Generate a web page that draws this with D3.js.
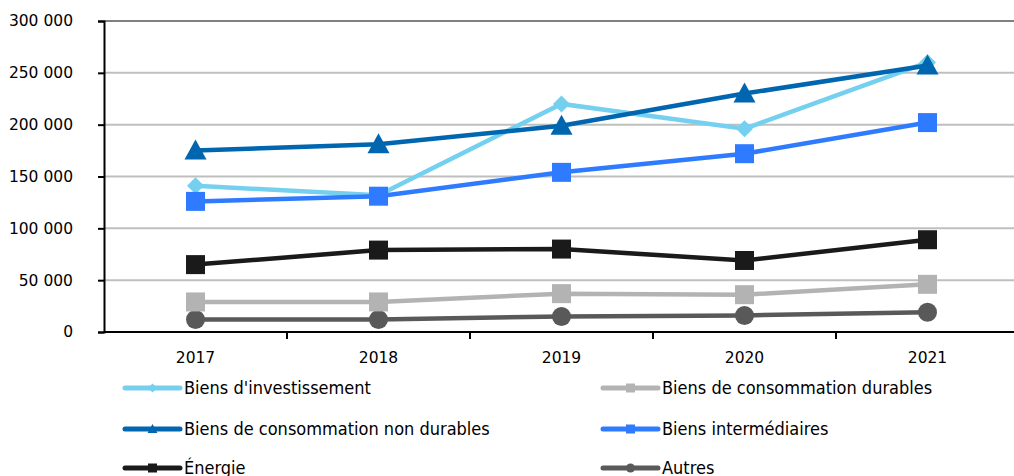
<!DOCTYPE html>
<html>
<head>
<meta charset="utf-8">
<script src="https://cdn.jsdelivr.net/npm/d3@7"></script>
<style>
  body { margin: 0; background: #fff; }
  svg { display: block; }
  .tick text { font-family: "DejaVu Sans", Verdana, sans-serif; font-size: 15.5px; fill: #000; }
  .legend text { font-family: "DejaVu Sans Condensed", "DejaVu Sans", sans-serif; font-size: 18px; fill: #000; }
</style>
</head>
<body>
<script>
var years = ["2017", "2018", "2019", "2020", "2021"]
var yTicks = [0, 50000, 100000, 150000, 200000, 250000, 300000]

var investissement = [141000, 132000, 220000, 196000, 260000]
var nonDurables = [175000, 181000, 199000, 230000, 257000]
var intermediaires = [126000, 131000, 154000, 172000, 202000]
var energie = [65000, 79000, 80000, 69000, 89000]
var durables = [29000, 29000, 37000, 36000, 46000]
var autres = [12000, 12000, 15000, 16000, 19000]

// draw order: first ones end up below
var series = [
  {name: "Autres", values: autres, color: "#595959", shape: "circle"},
  {name: "Biens de consommation durables", values: durables, color: "#B3B3B3", shape: "square"},
  {name: "Énergie", values: energie, color: "#1A1A1A", shape: "square"},
  {name: "Biens d'investissement", values: investissement, color: "#75D0F0", shape: "diamond"},
  {name: "Biens intermédiaires", values: intermediaires, color: "#2F7BFF", shape: "square"},
  {name: "Biens de consommation non durables", values: nonDurables, color: "#0066B0", shape: "triangle"}
]
var legendOrder = [
  "Biens d'investissement", "Biens de consommation durables",
  "Biens de consommation non durables", "Biens intermédiaires",
  "Énergie", "Autres"
]

var width = 1014, height = 476

var svg = d3.select("body").append("svg")
  .attr("width", width)
  .attr("height", height)

var x = d3.scaleBand()
  .domain(years)
  .range([104, 1019])

var y = d3.scaleLinear()
  .domain([0, 300000])
  .range([332, 21])

var fmt = function(d) { return d3.format(",")(d).replace(/,/g, " ") }

// horizontal grid
svg.append("g").selectAll("line")
  .data(yTicks.filter(function(d) { return d > 0 }))
  .enter().append("line")
  .attr("x1", 104).attr("x2", width)
  .attr("y1", function(d) { return y(d) })
  .attr("y2", function(d) { return y(d) })
  .attr("stroke", function(d) { return d === 300000 ? "#808080" : "#BFBFBF" })
  .attr("stroke-width", 2)

// y axis
var yAxis = svg.append("g")
  .attr("transform", "translate(104,0)")
  .call(d3.axisLeft(y).tickValues(yTicks).tickFormat(fmt).tickSize(6).tickPadding(25))
yAxis.select(".domain").attr("stroke", "#000").attr("stroke-width", 2)
yAxis.selectAll(".tick line").attr("stroke", "#000").attr("stroke-width", 2)
yAxis.selectAll(".tick text").attr("x", -31)

// x axis, ticks on band edges
var xAxis = svg.append("g")
  .attr("transform", "translate(0,332)")
xAxis.append("line")
  .attr("x1", 104).attr("x2", width)
  .attr("stroke", "#000").attr("stroke-width", 2)
xAxis.selectAll(".edge")
  .data(years.slice(1))
  .enter().append("line")
  .attr("class", "edge")
  .attr("x1", function(d) { return x(d) }).attr("x2", function(d) { return x(d) })
  .attr("y1", 0).attr("y2", 7)
  .attr("stroke", "#000").attr("stroke-width", 2)
xAxis.selectAll(".tick")
  .data(years)
  .enter().append("g")
  .attr("class", "tick")
  .append("text")
  .attr("x", function(d) { return x(d) + x.bandwidth() / 2 })
  .attr("y", 31)
  .attr("text-anchor", "middle")
  .text(function(d) { return d })

var cx = function(i) { return x(years[i]) + x.bandwidth() / 2 }

var symbolPath = function(shape, s) {
  if (shape === "circle") return d3.symbol(d3.symbolCircle, s * s * Math.PI / 4)()
  if (shape === "square") return d3.symbol(d3.symbolSquare, s * s)()
  if (shape === "diamond") return "M0," + (-s / 2) + "L" + (s / 2) + ",0L0," + (s / 2) + "L" + (-s / 2) + ",0Z"
  // triangle
  return "M0," + (-s * 0.55) + "L" + (s * 0.55) + "," + (s * 0.45) + "L" + (-s * 0.55) + "," + (s * 0.45) + "Z"
}
var markerSize = {circle: 19, square: 19, diamond: 17, triangle: 20}

var line = d3.line()
  .x(function(d, i) { return cx(i) })
  .y(function(d) { return y(d) })

var plot = svg.append("g")
series.forEach(function(s) {
  var g = plot.append("g")
  g.append("path")
    .attr("d", line(s.values))
    .attr("fill", "none")
    .attr("stroke", s.color)
    .attr("stroke-width", 4.5)
  g.selectAll("path.m")
    .data(s.values)
    .enter().append("path")
    .attr("class", "m")
    .attr("transform", function(d, i) { return "translate(" + cx(i) + "," + y(d) + ")" })
    .attr("d", symbolPath(s.shape, markerSize[s.shape]))
    .attr("fill", s.color)
})

// legend
var legend = svg.append("g").attr("class", "legend")
var legX = [125, 603], legY = [388, 429, 468]
legendOrder.forEach(function(name, k) {
  var s = series.filter(function(d) { return d.name === name })[0]
  var lx = legX[k % 2], ly = legY[Math.floor(k / 2)]
  var g = legend.append("g").attr("transform", "translate(" + lx + "," + ly + ")")
  g.append("line")
    .attr("x1", 0).attr("x2", 55)
    .attr("stroke", s.color).attr("stroke-width", 5)
    .attr("stroke-linecap", "round")
  g.append("path")
    .attr("transform", "translate(27.5,0)")
    .attr("d", symbolPath(s.shape, 9))
    .attr("fill", s.color)
  g.append("text")
    .attr("x", 59).attr("y", 6)
    .text(name)
})
</script>
</body>
</html>
